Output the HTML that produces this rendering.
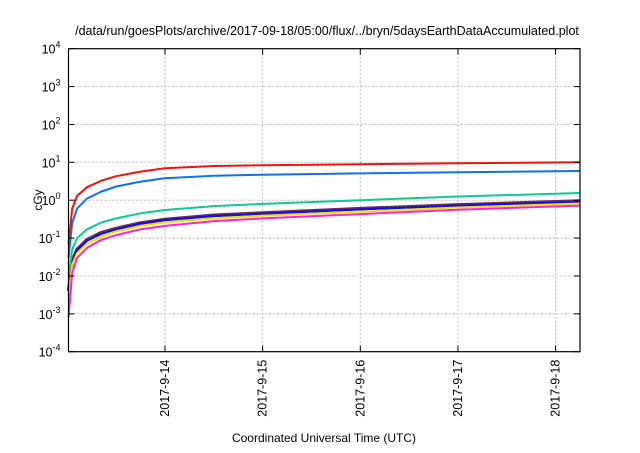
<!DOCTYPE html>
<html><head><meta charset="utf-8"><style>
body{margin:0;background:#fff}
svg text{font-family:"Liberation Sans",sans-serif;fill:#000}
</style></head><body>
<svg id="chart" width="640" height="448" viewBox="0 0 640 448" xmlns="http://www.w3.org/2000/svg">
<rect width="640" height="448" fill="#fff"/>
<text x="327" y="35" font-size="12.5" text-anchor="middle">/data/run/goesPlots/archive/2017-09-18/05:00/flux/../bryn/5daysEarthDataAccumulated.plot</text>
<g id="grid"></g><g id="series"></g><g id="axes"></g>
<text transform="translate(42,200) rotate(-90)" font-size="12" text-anchor="middle">cGy</text>
<text x="324" y="442" font-size="12" text-anchor="middle">Coordinated Universal Time (UTC)</text>
</svg>
<script>
const days=[0.012,0.05,0.1,0.2,0.35,0.5,0.75,1,1.5,2,3,4,5.25];
const xTickDays=[1,2,3,4,5];
const xTickLabels=["2017-9-14","2017-9-15","2017-9-16","2017-9-17","2017-9-18"];
const yTickExps=[-4,-3,-2,-1,0,1,2,3,4];
const redVals=[0.07,0.6,1.3,2.2,3.3,4.3,5.7,7.0,8.0,8.4,8.9,9.4,10];
const blueVals=[0.03,0.25,0.6,1.1,1.7,2.3,3.1,3.8,4.4,4.7,5.1,5.5,5.9];
const tealVals=[0.01,0.05,0.1,0.17,0.26,0.33,0.45,0.55,0.7,0.8,1.0,1.25,1.55];
const purpleVals=[0.004,0.025,0.05,0.09,0.14,0.18,0.25,0.31,0.4,0.46,0.6,0.75,0.95];
const darkBlueVals=[0.004,0.024,0.048,0.085,0.13,0.17,0.24,0.3,0.38,0.44,0.57,0.72,0.9];
const yellowVals=[0.003,0.02,0.04,0.07,0.11,0.15,0.21,0.26,0.33,0.39,0.5,0.64,0.82];
const magentaVals=[0.0008,0.012,0.03,0.055,0.09,0.12,0.17,0.21,0.28,0.33,0.43,0.56,0.72];
const L=68.5,R=580,T=48.7,B=351.7,D0=0.012,D1=5.25;
const NS="http://www.w3.org/2000/svg";
function xs(d){return L+(d-D0)/(D1-D0)*(R-L);}
function ys(v){return B-(Math.log10(v)+4)/8*(B-T);}
function mk(tag,attrs,parent){const e=document.createElementNS(NS,tag);for(const k in attrs)e.setAttribute(k,attrs[k]);parent.appendChild(e);return e;}
const grid=document.getElementById('grid'),axes=document.getElementById('axes'),ser=document.getElementById('series');
yTickExps.forEach(p=>{const y=ys(Math.pow(10,p));
 if(p>-4&&p<4){const g=mk('line',{x1:L,x2:R,y1:y,y2:y,stroke:'#bbb','stroke-dasharray':'2,2'},grid);
 
 }
 mk('line',{x1:L,x2:L+6,y1:y,y2:y,stroke:'#000'},axes);mk('line',{x1:R,x2:R-6,y1:y,y2:y,stroke:'#000'},axes);
 const t=mk('text',{x:L-8,y:y+5,'font-size':'12.5','text-anchor':'end'},axes);
 
 
 t.innerHTML='10<tspan dy="-6" font-size="9">'+p+'</tspan>';});
xTickDays.forEach((d,i)=>{const x=xs(d);
 const g=mk('line',{x1:x,x2:x,y1:T,y2:B,stroke:'#bbb','stroke-dasharray':'2,2'},grid);
 
 
 mk('line',{x1:x,x2:x,y1:B,y2:B-6,stroke:'#000'},axes);mk('line',{x1:x,x2:x,y1:T,y2:T+6,stroke:'#000'},axes);
 const t=mk('text',{transform:`translate(${x+4},${B+8}) rotate(-90)`,'font-size':'12.5','text-anchor':'end'},axes);
 
 
 t.textContent=xTickLabels[i];});
const fr=mk('rect',{x:L,y:T,width:R-L,height:B-T,fill:'none',stroke:'#000','stroke-width':1.2},axes);


const list=[[purpleVals,'#6a2a5a','purple'],[darkBlueVals,'#1010e0','dark-blue'],[yellowVals,'#f0e000','yellow'],[magentaVals,'#ff20e0','magenta'],[tealVals,'#10c890','teal'],[blueVals,'#1070f0','blue'],[redVals,'#f01010','red']];
list.forEach(([vals,c,n])=>{
 let d='';vals.forEach((v,i)=>{d+=(i?'L':'M')+xs(days[i]).toFixed(1)+','+ys(v).toFixed(1);});
 const p=mk('path',{d:d,fill:'none',stroke:c,'stroke-width':n==='purple'?3.5:2,'stroke-linejoin':'round'},ser);
 
 });
</script>
</body></html>
